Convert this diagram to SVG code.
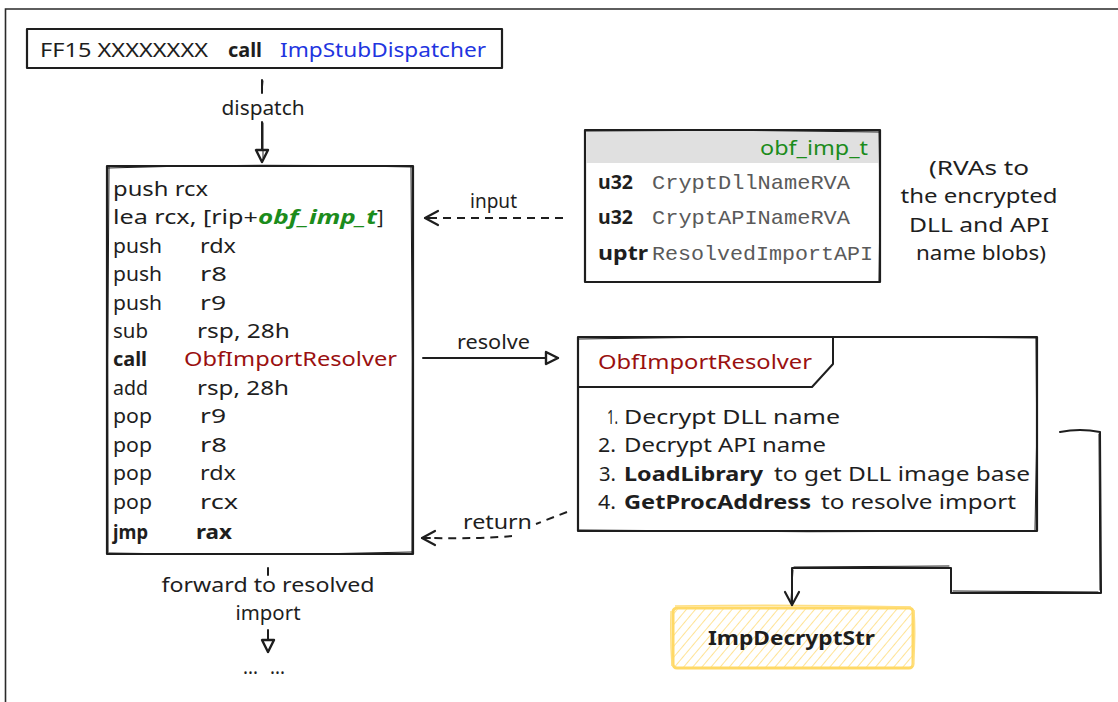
<svg xmlns="http://www.w3.org/2000/svg" width="1118" height="702" viewBox="0 0 1118 702">
  <style>
    .hand { font-family: "Noto Sans", "DejaVu Sans", sans-serif; font-size: 20px; fill: #1e1e1e; }
    .b { font-weight: bold; }
    .mono { font-family: "Liberation Mono", "DejaVu Sans Mono", monospace; font-size: 21px; fill: #5a5a5a; }
    .blue { fill: #1f35e0; }
    .green { fill: #1c8c1c; }
    .red { fill: #9a1010; }
    .box { fill: #ffffff; stroke: #1e1e1e; stroke-width: 2.2; stroke-linejoin: round; }
    .sk { fill: none; stroke: #1e1e1e; stroke-width: 1; stroke-linecap: round; }
    .line { fill: none; stroke: #1e1e1e; stroke-width: 2; stroke-linecap: round; stroke-linejoin: round; }
    .dash { fill: none; stroke: #1e1e1e; stroke-width: 2; stroke-dasharray: 8 6; }
  </style>
  <defs>
    <marker id="chev" markerUnits="userSpaceOnUse" markerWidth="20" markerHeight="20" viewBox="-16 -10 20 20" refX="0" refY="0" orient="auto" overflow="visible">
      <path d="M-13,-7 L0,0 L-13,7" fill="none" stroke="#1e1e1e" stroke-width="2.2" stroke-linecap="round" stroke-linejoin="round"/>
    </marker>
    <marker id="tri" markerUnits="userSpaceOnUse" markerWidth="20" markerHeight="20" viewBox="-16 -10 20 20" refX="0" refY="0" orient="auto" overflow="visible">
      <path d="M-12,-6 L0,0 L-12,6 Z" fill="#ffffff" stroke="#1e1e1e" stroke-width="2.4" stroke-linejoin="round"/>
    </marker>
    <pattern id="hachure" patternUnits="userSpaceOnUse" width="7" height="7" patternTransform="rotate(40)">
      <line x1="0" y1="0" x2="0" y2="7" stroke="#ffd45a" stroke-width="1.3"/>
    </pattern>
  </defs>

  <rect width="1118" height="702" fill="#ffffff"/>
  <!-- page frame -->
  <path d="M5.5,702 L5.5,9 L1118,9" fill="none" stroke="#2a2a2a" stroke-width="1.6"/>

  <!-- call site -->
  <g id="call-site">
    <rect class="box" x="27" y="29" width="475" height="39"/>
    <text class="hand" x="40" y="57" textLength="168" lengthAdjust="spacingAndGlyphs">FF15 XXXXXXXX</text>
    <text class="hand b" x="228" y="57" textLength="34" lengthAdjust="spacingAndGlyphs">call</text>
    <text class="hand blue" x="280" y="57" textLength="206" lengthAdjust="spacingAndGlyphs">ImpStubDispatcher</text>
  </g>

  <!-- dispatcher stub -->
  <g id="dispatcher-stub">
    <rect class="box" x="107" y="166" width="306" height="388"/>
    <path class="sk" d="M108,168 Q260,163 412,167 M109,167 Q107,360 108,552 M411,167 Q413,360 412,553 M108,553 Q260,556 412,552"/>
    <g class="hand">
      <text x="113" y="196" textLength="95" lengthAdjust="spacingAndGlyphs">push rcx</text>
      <text x="113" y="224" textLength="145" lengthAdjust="spacingAndGlyphs">lea rcx, [rip+</text>
      <text class="green b" x="258" y="224" font-style="italic" textLength="119" lengthAdjust="spacingAndGlyphs">obf_imp_t</text>
      <text x="377" y="224">]</text>
      <text x="113" y="253" textLength="49" lengthAdjust="spacingAndGlyphs">push</text>
      <text x="200" y="253" textLength="36" lengthAdjust="spacingAndGlyphs">rdx</text>
      <text x="113" y="281" textLength="49" lengthAdjust="spacingAndGlyphs">push</text>
      <text x="200" y="281" textLength="27" lengthAdjust="spacingAndGlyphs">r8</text>
      <text x="113" y="310" textLength="49" lengthAdjust="spacingAndGlyphs">push</text>
      <text x="200" y="310" textLength="26" lengthAdjust="spacingAndGlyphs">r9</text>
      <text x="113" y="338" textLength="35" lengthAdjust="spacingAndGlyphs">sub</text>
      <text x="197" y="338" textLength="93" lengthAdjust="spacingAndGlyphs">rsp, 28h</text>
      <text class="b" x="113" y="366" textLength="34" lengthAdjust="spacingAndGlyphs">call</text>
      <text class="red" x="184" y="366" textLength="213" lengthAdjust="spacingAndGlyphs">ObfImportResolver</text>
      <text x="113" y="395" textLength="35" lengthAdjust="spacingAndGlyphs">add</text>
      <text x="197" y="395" textLength="92" lengthAdjust="spacingAndGlyphs">rsp, 28h</text>
      <text x="113" y="423" textLength="39" lengthAdjust="spacingAndGlyphs">pop</text>
      <text x="200" y="423" textLength="26" lengthAdjust="spacingAndGlyphs">r9</text>
      <text x="113" y="452" textLength="39" lengthAdjust="spacingAndGlyphs">pop</text>
      <text x="200" y="452" textLength="27" lengthAdjust="spacingAndGlyphs">r8</text>
      <text x="113" y="480" textLength="39" lengthAdjust="spacingAndGlyphs">pop</text>
      <text x="200" y="480" textLength="36" lengthAdjust="spacingAndGlyphs">rdx</text>
      <text x="113" y="509" textLength="39" lengthAdjust="spacingAndGlyphs">pop</text>
      <text x="200" y="509" textLength="38" lengthAdjust="spacingAndGlyphs">rcx</text>
      <text class="b" x="113" y="539" textLength="35" lengthAdjust="spacingAndGlyphs">jmp</text>
      <text class="b" x="196" y="539" textLength="36" lengthAdjust="spacingAndGlyphs">rax</text>
    </g>
  </g>

  <!-- obf_imp_t structure -->
  <g id="obf-imp-t">
    <rect class="box" x="585" y="130" width="295" height="152"/>
    <rect x="586" y="131" width="293" height="32" fill="#e0e0e0"/>
    <path class="sk" d="M586,131 Q732,129 879,132 M879,131 Q881,206 879,281"/>
    <text class="hand green" x="760" y="155" textLength="108" lengthAdjust="spacingAndGlyphs">obf_imp_t</text>
    <text class="hand b" x="598" y="189" textLength="35" lengthAdjust="spacingAndGlyphs">u32</text>
    <text class="mono" x="652" y="189" textLength="198" lengthAdjust="spacingAndGlyphs">CryptDllNameRVA</text>
    <text class="hand b" x="598" y="224" textLength="35" lengthAdjust="spacingAndGlyphs">u32</text>
    <text class="mono" x="652" y="224" textLength="198" lengthAdjust="spacingAndGlyphs">CryptAPINameRVA</text>
    <text class="hand b" x="598" y="260" textLength="50" lengthAdjust="spacingAndGlyphs">uptr</text>
    <text class="mono" x="652" y="260" textLength="221" lengthAdjust="spacingAndGlyphs">ResolvedImportAPI</text>
  </g>

  <!-- note on the structure fields -->
  <g id="rva-note" class="hand" text-anchor="middle" font-size="21">
    <text x="979" y="175" textLength="100" lengthAdjust="spacingAndGlyphs">(RVAs to</text>
    <text x="979" y="203" textLength="157" lengthAdjust="spacingAndGlyphs">the encrypted</text>
    <text x="979" y="232" textLength="140" lengthAdjust="spacingAndGlyphs">DLL and API</text>
    <text x="981" y="260" textLength="130" lengthAdjust="spacingAndGlyphs">name blobs)</text>
  </g>

  <!-- resolver frame -->
  <g id="obf-import-resolver">
    <rect class="box" x="578" y="337" width="459" height="194"/>
    <path class="sk" d="M579,339 Q808,335 1036,338 M1036,338 Q1038,434 1035,530 M579,530 Q808,533 1036,531"/>
    <path class="line" d="M578,387 L812,387 L833,364 L833,337"/>
    <text class="hand red" x="598" y="369" font-size="21" textLength="214" lengthAdjust="spacingAndGlyphs">ObfImportResolver</text>
    <g class="hand" font-size="21">
      <text x="607" y="424" textLength="11" lengthAdjust="spacingAndGlyphs">1.</text>
      <text x="624" y="424" textLength="216" lengthAdjust="spacingAndGlyphs">Decrypt DLL name</text>
      <text x="598" y="452" textLength="18" lengthAdjust="spacingAndGlyphs">2.</text>
      <text x="624" y="452" textLength="202" lengthAdjust="spacingAndGlyphs">Decrypt API name</text>
      <text x="599" y="481" textLength="17" lengthAdjust="spacingAndGlyphs">3.</text>
      <text class="b" x="624" y="481" textLength="139" lengthAdjust="spacingAndGlyphs">LoadLibrary</text>
      <text x="774" y="481" textLength="256" lengthAdjust="spacingAndGlyphs">to get DLL image base</text>
      <text x="598" y="509" textLength="18" lengthAdjust="spacingAndGlyphs">4.</text>
      <text class="b" x="624" y="509" textLength="187" lengthAdjust="spacingAndGlyphs">GetProcAddress</text>
      <text x="821" y="509" textLength="195" lengthAdjust="spacingAndGlyphs">to resolve import</text>
    </g>
  </g>

  <!-- string decryption helper -->
  <g id="imp-decrypt-str">
    <rect x="673" y="608" width="240" height="60" rx="4" fill="url(#hachure)"/>
    <rect x="673" y="608" width="240" height="60" rx="4" fill="none" stroke="#ffd966" stroke-width="3"/>
    <path d="M675,606 Q790,604 911,607 M671,611 Q670,640 672,666 M914,610 Q916,640 913,666" fill="none" stroke="#ffdf80" stroke-width="1.4"/>
    <text class="hand b" x="708" y="645" textLength="167" lengthAdjust="spacingAndGlyphs">ImpDecryptStr</text>
  </g>

  <!-- connectors -->
  <g id="connectors">
    <path class="line" d="M262,80 L262,93 M262,122 L262,162" marker-end="url(#tri)"/>
    <path class="sk" d="M263,81 L262,92 M263,123 L263,158"/>
    <text class="hand" x="263" y="115" text-anchor="middle" textLength="83" lengthAdjust="spacingAndGlyphs">dispatch</text>

    <path class="dash" d="M563,218 L428,218"/>
    <path class="line" d="M432,218 L425,218" marker-end="url(#chev)"/>
    <text class="hand" x="470" y="208" textLength="47" lengthAdjust="spacingAndGlyphs">input</text>

    <path class="line" d="M423,358 L558,358" marker-end="url(#tri)"/>
    <text class="hand" x="457" y="349" textLength="73" lengthAdjust="spacingAndGlyphs">resolve</text>

    <path class="dash" d="M567,512 L536,524 M512,536 Q480,539 428,538"/>
    <path class="line" d="M430,538 L422,538" marker-end="url(#chev)"/>
    <text class="hand" x="463" y="529" textLength="69" lengthAdjust="spacingAndGlyphs">return</text>

    <path class="line" d="M268,568 L268,575 M268,630 L268,652" marker-end="url(#tri)"/>
    <text class="hand" x="268" y="592" text-anchor="middle" textLength="213" lengthAdjust="spacingAndGlyphs">forward to resolved</text>
    <text class="hand" x="268" y="620" text-anchor="middle" textLength="65" lengthAdjust="spacingAndGlyphs">import</text>

    <path class="line" d="M1060,432 Q1080,428 1100,432 L1101,593 L951,593 L951,568 L792,568 L792,605" marker-end="url(#chev)"/>
    <path class="sk" d="M1099,434 L1100,590 M1098,592 L953,591 M949,566 L794,567 M793,570 L791,600"/>
  </g>

  <!-- continuation marks below the forward arrow -->
  <text class="hand" x="243" y="674" textLength="15" lengthAdjust="spacingAndGlyphs">...</text>
  <text class="hand" x="270" y="674" textLength="15" lengthAdjust="spacingAndGlyphs">...</text>
</svg>
